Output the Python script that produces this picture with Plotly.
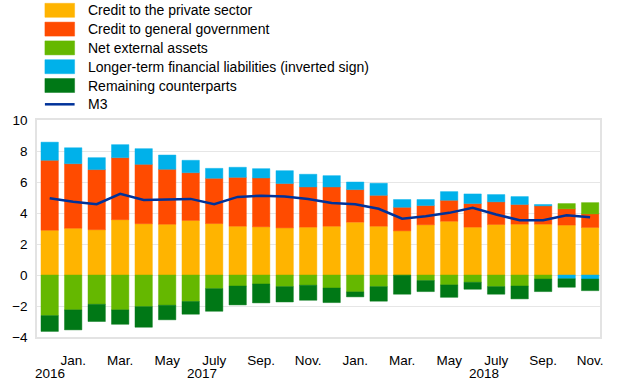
import plotly.graph_objects as go

months = ["Dec 2016", "Jan 2017", "Feb 2017", "Mar 2017", "Apr 2017", "May 2017",
          "Jun 2017", "Jul 2017", "Aug 2017", "Sep 2017", "Oct 2017", "Nov 2017",
          "Dec 2017", "Jan 2018", "Feb 2018", "Mar 2018", "Apr 2018", "May 2018",
          "Jun 2018", "Jul 2018", "Aug 2018", "Sep 2018", "Oct 2018", "Nov 2018"]

credit_private = [2.89, 3.02, 2.92, 3.57, 3.31, 3.28, 3.52, 3.32, 3.15, 3.11, 3.04, 3.09,
                  3.15, 3.41, 3.15, 2.85, 3.24, 3.47, 3.09, 3.26, 3.28, 3.28, 3.22, 3.07]
credit_government = [4.51, 4.16, 3.88, 4.00, 3.83, 3.54, 3.08, 2.92, 3.15, 3.15, 2.86, 2.59,
                     2.53, 2.10, 1.99, 1.52, 1.24, 1.35, 1.52, 1.46, 1.27, 1.18, 1.05, 0.87]
net_external = [-2.62, -2.25, -1.89, -2.25, -2.04, -1.95, -1.71, -0.88, -0.71, -0.58, -0.75, -0.66,
                -0.84, -1.09, -0.75, -0.02, -0.36, -0.64, -0.47, -0.75, -0.71, -0.26, 0.34, 0.73]
longer_term = [1.17, 1.03, 0.77, 0.84, 1.01, 0.92, 0.80, 0.64, 0.65, 0.60, 0.83, 0.82,
               0.73, 0.49, 0.78, 0.50, 0.39, 0.56, 0.62, 0.47, 0.51, 0.09, -0.24, -0.26]
remaining = [-1.02, -1.29, -1.11, -0.93, -1.33, -0.94, -0.82, -1.46, -1.22, -1.22, -0.99, -0.97,
             -0.94, -0.32, -0.94, -1.22, -0.71, -0.80, -0.45, -0.49, -0.83, -0.81, -0.55, -0.75]
m3 = [4.95, 4.72, 4.57, 5.24, 4.84, 4.87, 4.91, 4.57, 5.04, 5.12, 5.06, 4.91,
      4.65, 4.57, 4.27, 3.63, 3.79, 4.01, 4.33, 3.90, 3.54, 3.54, 3.86, 3.73]

month_tick_labels = ["Jan.", "Mar.", "May", "July", "Sep.", "Nov.",
                     "Jan.", "Mar.", "May", "July", "Sep.", "Nov."]
year_labels = ["2016", "2017", "2018"]

series_names = ["Credit to the private sector", "Credit to general government",
                "Net external assets", "Longer-term financial liabilities (inverted sign)",
                "Remaining counterparts"]
series_values = [credit_private, credit_government, net_external, longer_term, remaining]
colors = ["#FFB400", "#FF4B00", "#65B800", "#00B1EA", "#007816"]
m3_name = "M3"
m3_color = "#003299"

FONT = "Liberation Sans, Arial, sans-serif"
x = list(range(len(months)))


def soft(hexcol, a=0.45):
    h = hexcol.lstrip("#")
    r, g, b = int(h[0:2], 16), int(h[2:4], 16), int(h[4:6], 16)
    return f"rgba({r},{g},{b},{a})"


fig = go.Figure()
for name, vals, col in zip(series_names, series_values, colors):
    fig.add_trace(go.Bar(x=x, y=vals, name=name,
                         marker=dict(color=col, line=dict(width=1, color=soft(col))),
                         width=0.74, showlegend=False))
fig.add_trace(go.Scatter(x=x, y=m3, name=m3_name, mode="lines",
                         line=dict(color=m3_color, width=2.5), showlegend=False))

# month tick positions: Jan, Mar, ... (every second month starting with index 1)
tick_pos = [i for i in x if i % 2 == 1]

# year labels: 2016 under Dec 2016, 2017 / 2018 centred on their twelve months
year_pos = [0, 6.5, 18.5]
for yl, xp in zip(year_labels, year_pos):
    fig.add_annotation(x=xp, y=0, xref="x", yref="paper", text=yl, showarrow=False,
                       yanchor="top", yshift=-27, font=dict(family=FONT, size=13.5, color="#000"))

# custom legend (wide swatches)
W, H = 620, 387
L, R, T, B = 31, 20, 120, 50
pw, ph = W - L - R, H - T - B


def px(xp):
    return (xp - L) / pw


def py(yp):
    return (H - B - yp) / ph


row0, pitch = 10.3, 18.8
all_names = series_names + [m3_name]
for k, name in enumerate(all_names):
    cy = row0 + k * pitch
    if k < len(series_names):
        fig.add_shape(type="rect", xref="paper", yref="paper",
                      x0=px(39), x1=px(69), y0=py(cy - 7), y1=py(cy + 7),
                      fillcolor=colors[k], line=dict(width=1, color=soft(colors[k])))
    else:
        fig.add_shape(type="line", xref="paper", yref="paper",
                      x0=px(39), x1=px(69), y0=py(cy), y1=py(cy),
                      line=dict(color=m3_color, width=2.5))
    fig.add_annotation(x=px(81), y=py(cy), xref="paper", yref="paper", text=name,
                       showarrow=False, xanchor="left", yanchor="middle",
                       font=dict(family=FONT, size=14, color="#000"))

fig.update_layout(
    width=W, height=H,
    margin=dict(l=L, r=R, t=T, b=B),
    barmode="relative",
    bargap=0.25,
    plot_bgcolor="white", paper_bgcolor="white",
    font=dict(family=FONT, size=13.5, color="#000"),
    showlegend=False,
    hovermode=False,
)
fig.update_xaxes(range=[-0.54, 23.42], tickmode="array", tickvals=tick_pos,
                 ticktext=month_tick_labels, showgrid=False, zeroline=False,
                 showline=True, linecolor="#e3e3e3", linewidth=1.5, mirror=True,
                 ticks="outside", ticklen=10, tickcolor="rgba(0,0,0,0)",
                 tickfont=dict(family=FONT, size=13.5, color="#000"))
fig.update_yaxes(range=[-4, 10], dtick=2, tick0=0, showgrid=True, gridcolor="#e6e6e6",
                 gridwidth=1, zeroline=False, showline=True, linecolor="#e3e3e3",
                 linewidth=1.5, mirror=True, ticks="outside", ticklen=5,
                 tickcolor="rgba(0,0,0,0)",
                 tickfont=dict(family=FONT, size=13.5, color="#000"))

fig.write_html("out.html", config={"displayModeBar": False},
               post_script="document.body.style.margin='0px';document.body.style.overflow='hidden';")
